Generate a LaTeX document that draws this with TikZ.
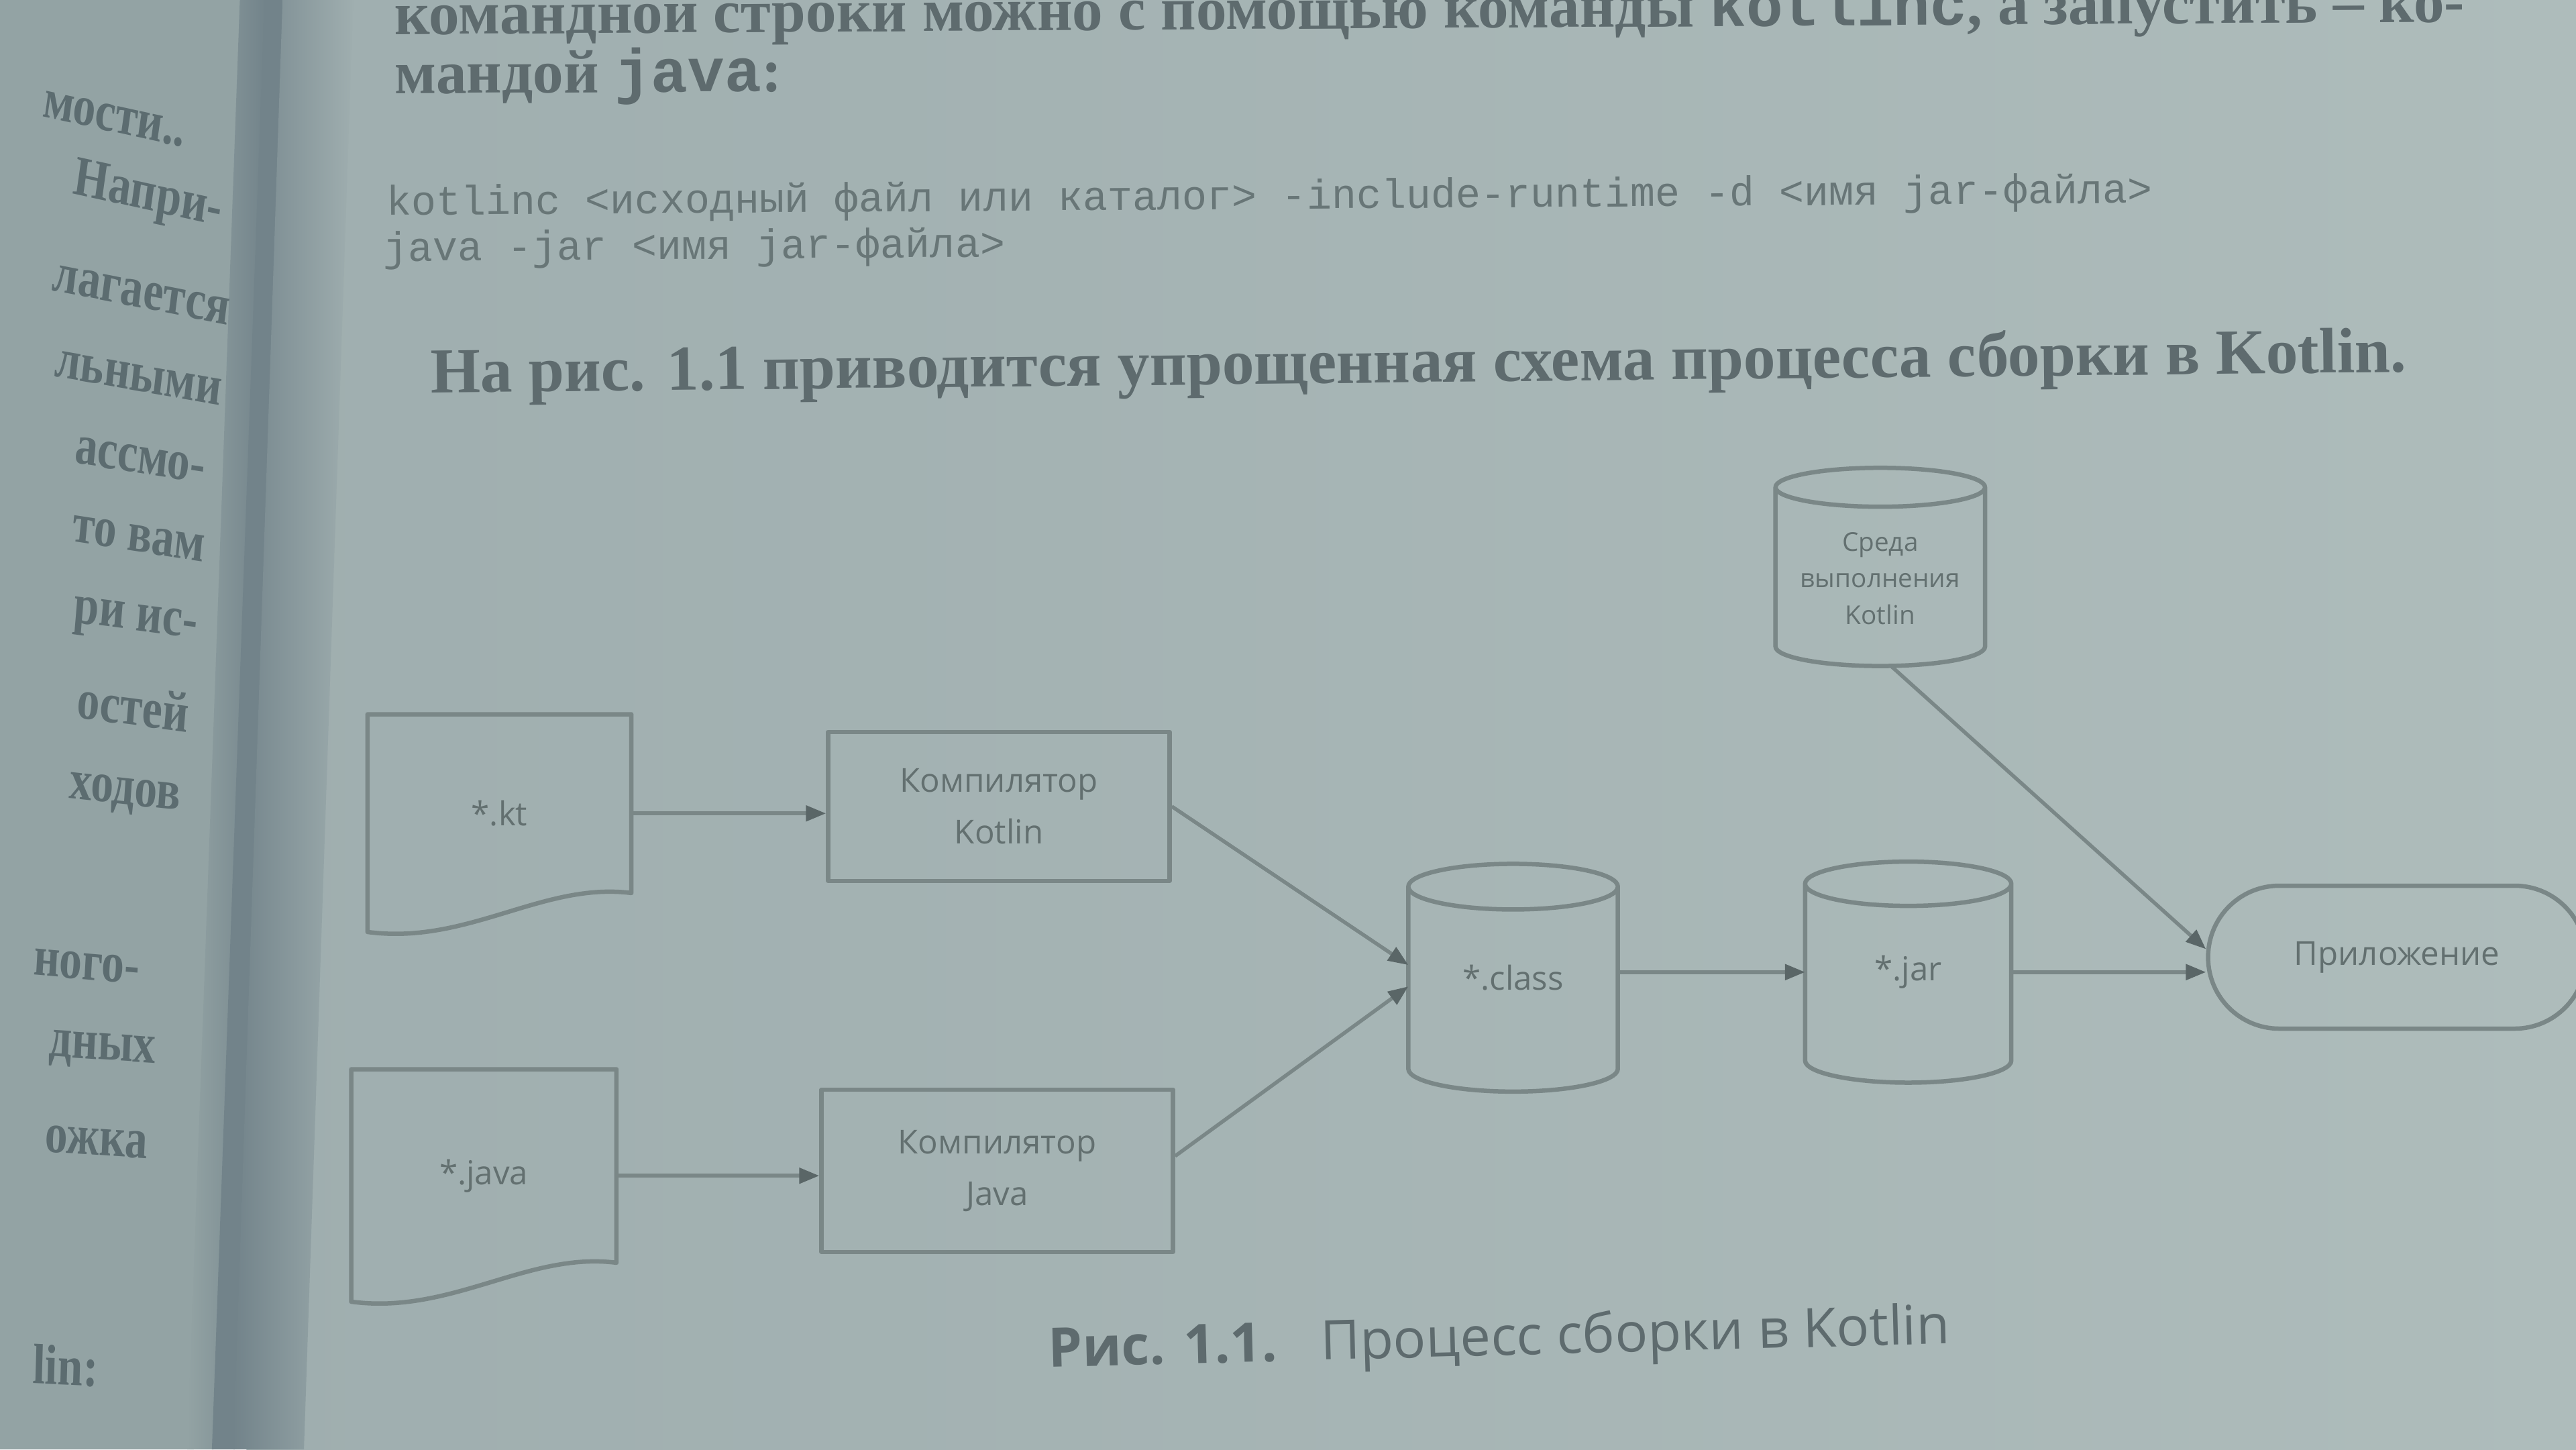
\documentclass[tikz,border=0pt]{standalone}
\usepackage{fontspec}
\setmainfont{Liberation Serif}
\setsansfont{Open Sans}
\setmonofont{Liberation Mono}
\usetikzlibrary{calc,arrows.meta}
\newlength\tmplen
\definecolor{bgc}{HTML}{A7B6B6}
\definecolor{pageL}{HTML}{9FAEAF}
\definecolor{pageR}{HTML}{AEBCBB}
\definecolor{leftpg}{HTML}{93A3A4}
\definecolor{gutterc}{HTML}{72838A}
\definecolor{linec}{HTML}{7A8787}
\definecolor{arrowc}{HTML}{5A6667}
\definecolor{textc}{HTML}{637070}
\definecolor{bodyc}{HTML}{5E6B6E}
\definecolor{codec}{HTML}{687677}
\definecolor{lefttext}{HTML}{5C6C70}
\tikzset{
 shp/.style={draw=linec, line width=0.65mm, line join=round},
 conn/.style={draw=linec, line width=0.55mm, -{Triangle[length=3mm,width=2.3mm,color=arrowc]}},
 dlabel/.style={font=\sffamily\fontsize{14}{22}\selectfont, text=textc, align=center, inner sep=0pt},
 bodyshape/.style={dlabel, rectangle, draw=none},
 procbox/.style={dlabel, rectangle, shp},
 appbox/.style={procbox, rounded corners=10.6mm},
 ptext/.style={anchor=base west, inner sep=0pt, text=bodyc},
 ltext/.style={anchor=east, inner sep=0pt, text=lefttext, font=\rmfamily\bfseries\fontsize{24}{26}\selectfont, xscale=0.8},
}
\newcommand\drawcyl[2]{%
 \draw[shp] let \p1=(#1.north west), \p2=(#1.south east) in
   (\x1,\y1-#2) -- (\x1,\y2+#2) arc[start angle=180,end angle=360,x radius={(\x2-\x1)/2},y radius=#2] -- (\x2,\y1-#2)
   ({(\x1+\x2)/2},\y1-#2) ellipse[x radius={(\x2-\x1)/2},y radius=#2];}
\newcommand\drawdoc[1]{%
 \draw[shp] let \p1=(#1.north west), \p2=(#1.south east) in
   (\x1,\y1) -- (\x2,\y1) -- (\x2,\y2+2.9mm) .. controls (\x2-13.2mm,\y2+4.6mm) and (\x1+14.9mm,\y2-4.9mm) .. (\x1,\y2-2.9mm) -- cycle;}
\begin{document}
% font sizes fitted to the measured line widths
\settowidth{\tmplen}{\fontsize{10}{12}\selectfont\rmfamily\bfseries командной строки можно с помощью команды \texttt{kotlinc}, а запустить – ко-}%
\pgfmathsetmacro\szA{10*308.6mm/\tmplen}%
\settowidth{\tmplen}{\fontsize{10}{12}\selectfont\rmfamily\bfseries На рис. 1.1 приводится упрощенная схема процесса сборки в Kotlin.}%
\pgfmathsetmacro\szS{10*294.6mm/\tmplen}%
\settowidth{\tmplen}{\fontsize{10}{12}\selectfont\ttfamily kotlinc <исходный файл или каталог> -include-runtime -d <имя jar-файла>}%
\pgfmathsetmacro\szC{10*263.3mm/\tmplen}%
\begin{tikzpicture}[x=0.244898mm, y=0.244898mm]
\useasboundingbox (0,0) rectangle (1568,882);
\clip (0,0) rectangle (1568,882);
% background: photographed book spread
\fill[bgc] (0,0) rectangle (1568,882);
\shade[left color=pageL, right color=pageR] (150,0) rectangle (1568,882);
\fill[leftpg] (0,0) -- (0,882) -- (150,882) -- (118,0) -- cycle;
\shade[left color=leftpg, right color=gutterc] (146,882) -- (162,882) -- (130,0) -- (114,0) -- cycle;
\fill[gutterc] (161,882) -- (173,882) -- (143,0) -- (129,0) -- cycle;
\shade[left color=gutterc, right color=pageL] (172,882) -- (215,882) -- (185,0) -- (142,0) -- cycle;

% left page fragments
\node[ltext, rotate=-10] (lp1) at (113,800) {мости..};
\node[ltext, rotate=-10] (lp2) at (135,752) {Напри-};
\node[ltext, rotate=-9] (lp3) at (140,692) {лагается};
\node[ltext, rotate=-8] (lp4) at (135,643) {льными};
\node[ltext, rotate=-7] (lp5) at (125,596) {ассмо-};
\node[ltext, rotate=-7] (lp6) at (125,548) {то вам};
\node[ltext, rotate=-6] (lp7) at (120,498) {ри ис-};
\node[ltext, rotate=-6] (lp8) at (115,448) {остей};
\node[ltext, rotate=-5] (lp9) at (110,394) {ходов};
\node[ltext, rotate=-4] (lp10) at (85,291) {ного-};
\node[ltext, rotate=-3] (lp11) at (95,240) {дных};
\node[ltext, rotate=-3] (lp12) at (90,185) {ожка};
\node[ltext, rotate=-2] (lp13) at (60,50) {lin:};

% page text
\node[ptext, rotate=0.35, font=\rmfamily\bfseries\fontsize{\szA pt}{\szA pt}\selectfont] (p1) at (240,861) {командной строки можно с помощью команды \texttt{kotlinc}, а запустить – ко-};
\node[ptext, rotate=0.35, font=\rmfamily\bfseries\fontsize{\szA pt}{\szA pt}\selectfont] (p2) at (240,825) {мандой \texttt{java}:};
\node[ptext, rotate=0.4, text=codec, font=\ttfamily\fontsize{\szC pt}{\szC pt}\selectfont] (c1) at (235,751) {kotlinc <исходный файл или каталог> -include-runtime -d <имя jar-файла>};
\node[ptext, rotate=0.4, text=codec, font=\ttfamily\fontsize{\szC pt}{\szC pt}\selectfont] (c2) at (233,723) {java -jar <имя jar-файла>};
\node[ptext, rotate=0.6, font=\rmfamily\bfseries\fontsize{\szS pt}{\szS pt}\selectfont] (s1) at (262,643) {На рис. 1.1 приводится упрощенная схема процесса сборки в Kotlin.};

% diagram nodes
\node[bodyshape, minimum width=39.2mm, minimum height=29.4mm] (kt) at (304,387) {*.kt};
\node[bodyshape, minimum width=39.4mm, minimum height=31.6mm] (java) at (294.5,166.5) {*.java};
\node[procbox, minimum width=50.9mm, minimum height=22.2mm] (kc) at (608,391.25) {Компилятор\\Kotlin};
\node[procbox, minimum width=52.4mm, minimum height=24.2mm] (jc) at (607,169.5) {Компилятор\\Java};
\node[bodyshape, minimum width=31.1mm, minimum height=33.8mm] (cls) at (921,287) {*.class};
\node[bodyshape, minimum width=30.6mm, minimum height=32.8mm] (jar) at (1161.5,290.4) {*.jar};
\node[bodyshape, minimum width=31.1mm, minimum height=29.4mm] (rt) at (1144.5,537) {};
\node[dlabel, font=\sffamily\fontsize{11}{15.5}\selectfont] (rttext) at ([yshift=-1.7mm]rt.center) {Среда\\выполнения\\Kotlin};
\node[appbox, minimum width=56.3mm, minimum height=21.3mm] (app) at (1459,299.5) {Приложение};

\drawdoc{kt}
\drawdoc{java}
\drawcyl{cls}{3.4mm}
\drawcyl{jar}{3.3mm}
\drawcyl{rt}{2.9mm}

% connectors
\draw[conn] (kt.east) -- (kt.east -| kc.west);
\draw[conn] (java.east) -- (java.east -| jc.west);
\draw[conn] (kc.east) -- ([yshift=1.9mm]cls.west);
\draw[conn] ([yshift=2.2mm]jc.east) -- ([yshift=-1.3mm]cls.west);
\draw[conn] (cls.east |- jar.west) -- (jar.west);
\draw[conn] (jar.east) -- (jar.east -| app.west);
\draw[conn] ([xshift=1.6mm]rt.south) -- ([yshift=1.2mm]app.west);

% caption
\node[anchor=base west, inner sep=0pt, rotate=1.5, text=bodyc] (cap) at (638,50) {\resizebox{134.4mm}{!}{\sffamily\textbf{Рис. 1.1.}\hspace{0.8em}Процесс сборки в Kotlin}};
\end{tikzpicture}
\end{document}
